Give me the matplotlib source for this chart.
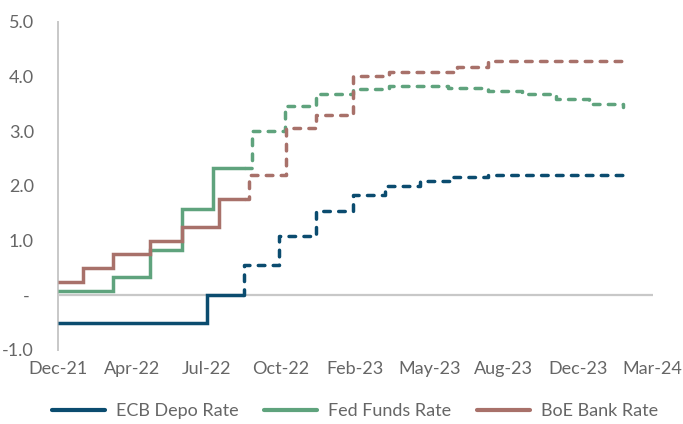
import matplotlib
matplotlib.use("Agg")
import matplotlib.pyplot as plt
import matplotlib.dates as mdates
import numpy as np
import pandas as pd
from matplotlib.lines import Line2D

# ---- data ----
tick_labels = ['Dec-21', 'Apr-22', 'Jul-22', 'Oct-22', 'Feb-23', 'May-23', 'Aug-23', 'Dec-23', 'Mar-24']
x_start = '2021-12-31'
x_end = '2024-03-19'

ecb_actual_dates = ['2021-12-31', '2022-07-22', '2022-09-09']
ecb_actual = [-0.50, 0.00, 0.00]
ecb_fwd_dates = ['2022-09-09', '2022-09-10', '2022-10-28', '2022-12-18', '2023-02-06', '2023-03-21',
                 '2023-05-08', '2023-06-22', '2023-08-08', '2024-02-08']
ecb_fwd = [0.00, 0.56, 1.09, 1.54, 1.84, 1.99, 2.08, 2.16, 2.19, 2.19]

fed_actual_dates = ['2021-12-31', '2022-03-17', '2022-05-06', '2022-06-18', '2022-07-30', '2022-09-12']
fed_actual = [0.08, 0.33, 0.83, 1.58, 2.33, 2.33]
fed_fwd_dates = ['2022-09-12', '2022-09-22', '2022-11-05', '2022-12-18', '2023-02-06', '2023-03-26',
                 '2023-06-15', '2023-08-08', '2023-09-24', '2023-11-08', '2023-12-23', '2024-02-08']
fed_fwd = [2.33, 3.00, 3.45, 3.67, 3.76, 3.82, 3.78, 3.73, 3.67, 3.58, 3.50, 3.44]

boe_actual_dates = ['2021-12-31', '2022-02-03', '2022-03-17', '2022-05-06', '2022-06-18', '2022-08-07', '2022-09-12']
boe_actual = [0.25, 0.50, 0.75, 1.00, 1.25, 1.75, 1.75]
boe_fwd_dates = ['2022-09-12', '2022-09-17', '2022-11-07', '2022-12-18', '2023-02-06', '2023-03-26',
                 '2023-06-27', '2023-08-08', '2024-02-08']
boe_fwd = [1.75, 2.19, 3.06, 3.29, 4.00, 4.08, 4.16, 4.27, 4.27]

series_names = ['ECB Depo Rate', 'Fed Funds Rate', 'BoE Bank Rate']
colors = ['#0b4c6f', '#5fa37d', '#a8716a']

# ---- plot ----
plt.rcParams['font.family'] = ['Lato', 'DejaVu Sans']
fig = plt.figure(figsize=(6.83, 4.24), dpi=100)
ax = fig.add_axes([57.5 / 683, 1 - 350 / 424, (652.7 - 57.5) / 683, (350 - 21.5) / 424])

lw = 2.5
data = [
    (ecb_actual_dates, ecb_actual, ecb_fwd_dates, ecb_fwd),
    (fed_actual_dates, fed_actual, fed_fwd_dates, fed_fwd),
    (boe_actual_dates, boe_actual, boe_fwd_dates, boe_fwd),
]
ax.axhline(0, color='#c8c8c8', lw=1.6, zorder=1)
for (ad, av, fd, fv), c in zip(data, colors):
    ax.step(pd.to_datetime(ad), av, where='post', color=c, lw=lw, zorder=3,
            solid_capstyle='butt', solid_joinstyle='miter')
    ax.step(pd.to_datetime(fd), fv, where='post', color=c, lw=lw, zorder=3,
            linestyle=(0, (1.9, 2.4)), dash_capstyle='round')

xs = mdates.date2num(pd.Timestamp(x_start))
xe = mdates.date2num(pd.Timestamp(x_end))
ax.set_xlim(xs, xe)
ax.set_ylim(-1, 5)
ax.set_xticks(np.linspace(xs, xe, len(tick_labels)))
ax.set_xticklabels(tick_labels)
yt = [-1, 0, 1, 2, 3, 4, 5]
ax.set_yticks(yt)
ax.set_yticklabels(['-1.0', '- ', '1.0', '2.0', '3.0', '4.0', '5.0'])

for s in ['top', 'right', 'bottom']:
    ax.spines[s].set_visible(False)
ax.spines['left'].set_color('#c8c8c8')
ax.spines['left'].set_linewidth(1.4)
ax.tick_params(axis='both', length=0, labelsize=13, colors='#666666')
ax.tick_params(axis='x', pad=8)
ax.tick_params(axis='y', pad=17)

handles = [Line2D([0], [0], color=c, lw=3.0, solid_capstyle='round') for c in colors]
fig.legend(handles, series_names, loc='center', bbox_to_anchor=(355 / 683, 1 - 411 / 424),
           ncol=3, frameon=False, fontsize=13, labelcolor='#666666',
           handlelength=2.95, handletextpad=0.6, columnspacing=1.4,
           borderpad=0, borderaxespad=0)

fig.savefig('out.png', dpi=100)
